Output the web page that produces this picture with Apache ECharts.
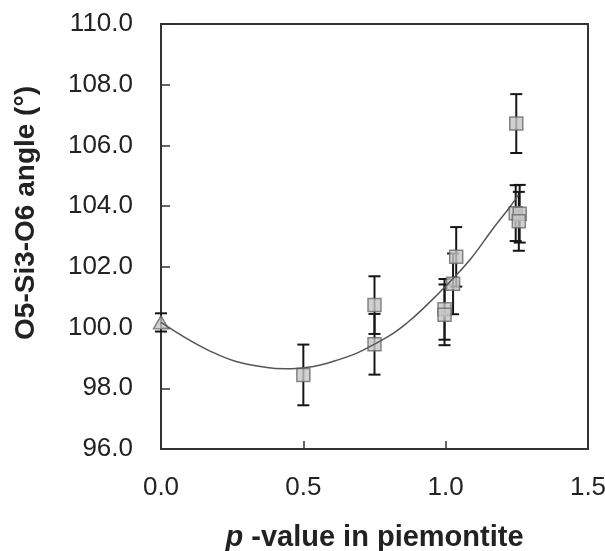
<!DOCTYPE html>
<html>
<head>
<meta charset="utf-8">
<title>O5-Si3-O6 angle vs p-value</title>
<script src="https://cdn.jsdelivr.net/npm/echarts@6/dist/echarts.min.js"></script>
<style>
  html, body { margin: 0; padding: 0; background: #fff; }
  #chart { width: 605px; height: 551px; }
</style>
</head>
<body>
<div id="chart"></div>
<script>
// Piemontite samples: p-value, O5-Si3-O6 angle (deg) and its error
const sampleP     = [0.50, 0.75, 0.75, 0.996, 0.996, 1.026, 1.037, 1.248, 1.246, 1.260, 1.257];
const sampleAngle = [98.44, 100.74, 99.45, 100.60, 100.42, 101.44, 102.33, 106.72, 103.77, 103.75, 103.50];
const sampleErr   = [1.00, 0.95, 1.00, 1.00, 1.00, 1.00, 0.98, 0.97, 0.92, 0.95, 0.97];

// End member (p = 0)
const endP     = [0.0];
const endAngle = [100.17];
const endErr   = [0.30];

// Fitted trend curve
const curveP     = [0, 0.097, 0.167, 0.261, 0.366, 0.437, 0.536, 0.606, 0.688, 0.747, 0.817, 0.864, 0.917, 1.005, 1.086, 1.168, 1.227, 1.256];
const curveAngle = [100.17, 99.60, 99.25, 98.89, 98.69, 98.64, 98.72, 98.89, 99.16, 99.44, 99.82, 100.15, 100.59, 101.41, 102.24, 103.28, 103.99, 104.38];

// Axis ticks
const xTicks = [0.0, 0.5, 1.0, 1.5];
const yTicks = [96, 98, 100, 102, 104, 106, 108, 110];

const FONT = '"Liberation Sans", Arial, Helvetica, sans-serif';

const samples = sampleP.map((p, i) => [p, sampleAngle[i], sampleErr[i]]);
const ends = endP.map((p, i) => [p, endAngle[i], endErr[i]]);
const curve = curveP.map((p, i) => [p, curveAngle[i]]);

function errorBars(params, api) {
  const x = api.value(0), y = api.value(1), e = api.value(2);
  const top = api.coord([x, y + e]);
  const bot = api.coord([x, y - e]);
  const hw = 6;
  const style = { stroke: '#161616', lineWidth: 2 };
  return {
    type: 'group',
    children: [
      { type: 'line', shape: { x1: top[0], y1: top[1], x2: bot[0], y2: bot[1] }, style },
      { type: 'line', shape: { x1: top[0] - hw, y1: top[1], x2: top[0] + hw, y2: top[1] }, style },
      { type: 'line', shape: { x1: bot[0] - hw, y1: bot[1], x2: bot[0] + hw, y2: bot[1] }, style }
    ]
  };
}

const chart = echarts.init(document.getElementById('chart'), null, { renderer: 'canvas' });

chart.setOption({
  backgroundColor: '#ffffff',
  animation: false,
  grid: {
    left: 161, top: 24, width: 427, height: 425,
    containLabel: false, outerBoundsMode: 'none',
    show: true, borderColor: '#333', borderWidth: 2, backgroundColor: 'transparent'
  },
  xAxis: {
    type: 'value',
    min: xTicks[0], max: xTicks[xTicks.length - 1], interval: 0.5,
    axisLine: { show: false },
    axisTick: { show: true, inside: true, length: 8, lineStyle: { color: '#333', width: 1.5 } },
    splitLine: { show: false },
    axisLabel: {
      margin: 26, color: '#222', fontSize: 26, fontFamily: FONT,
      formatter: v => v.toFixed(1)
    },
    name: '{i|p} -value in piemontite',
    nameLocation: 'middle',
    nameGap: 74,
    nameTextStyle: {
      color: '#222', fontSize: 29, fontWeight: 'bold', fontFamily: FONT,
      rich: { i: { fontSize: 29, fontWeight: 'bold', fontStyle: 'italic', fontFamily: FONT, color: '#222' } }
    }
  },
  yAxis: {
    type: 'value',
    min: yTicks[0], max: yTicks[yTicks.length - 1], interval: 2,
    axisLine: { show: false },
    axisTick: { show: true, inside: true, length: 9, lineStyle: { color: '#333', width: 1.5 } },
    splitLine: { show: false },
    axisLabel: {
      margin: 28, color: '#222', fontSize: 26, fontFamily: FONT,
      formatter: v => v.toFixed(1)
    }
  },
  graphic: [{
    type: 'text',
    x: 26, y: 213,
    rotation: Math.PI / 2,
    style: {
      text: 'O5-Si3-O6 angle (°)',
      font: 'bold 28px ' + FONT,
      fill: '#222',
      textAlign: 'center',
      textVerticalAlign: 'middle'
    }
  }],
  series: [
    {
      type: 'custom', name: 'sample error', data: samples,
      renderItem: errorBars, encode: { x: 0, y: 1 }, z: 2, silent: true
    },
    {
      type: 'custom', name: 'end error', data: ends,
      renderItem: errorBars, encode: { x: 0, y: 1 }, z: 2, silent: true
    },
    {
      type: 'scatter', name: 'samples', data: samples.map(d => [d[0], d[1]]),
      symbol: 'rect', symbolSize: 13,
      itemStyle: { color: '#c6c6c6', borderColor: '#6a6a6a', borderWidth: 1.5 },
      z: 3
    },
    {
      type: 'scatter', name: 'end member', data: ends.map(d => [d[0], d[1]]),
      symbol: 'triangle', symbolSize: [15, 13],
      itemStyle: { color: '#c6c6c6', borderColor: '#6a6a6a', borderWidth: 1.5 },
      z: 3
    },
    {
      type: 'line', name: 'trend', data: curve,
      smooth: 0.4, showSymbol: false,
      lineStyle: { color: '#555', width: 1.5 },
      z: 4
    }
  ]
});
</script>
</body>
</html>
